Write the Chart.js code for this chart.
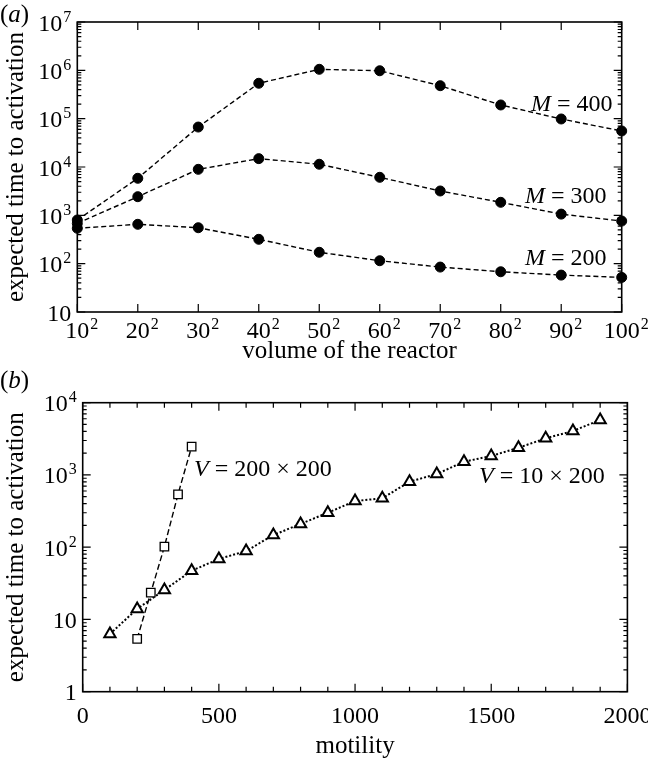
<!DOCTYPE html>
<html>
<head>
<meta charset="utf-8">
<script src="https://cdn.jsdelivr.net/npm/chart.js@4.4.0/dist/chart.umd.min.js"></script>
<style>
  body { margin: 0; background: #fff; }
  #wrap { position: relative; width: 648px; height: 761px; font-family: 'Liberation Serif', 'Times New Roman', serif; }
  canvas { position: absolute; left: 0; }
  .panel { position: absolute; left: 0; font-size: 25px; line-height: 25px; }
</style>
</head>
<body>
<div id="wrap">
  <canvas id="chartA" width="648" height="372" style="top:0"></canvas>
  <canvas id="chartB" width="648" height="389" style="top:372px"></canvas>
  <div class="panel" style="top:1px">(<i>a</i>)</div>
  <div class="panel" style="top:367px">(<i>b</i>)</div>
</div>
<script>
// (a) temps moyen d'activation selon le volume du réacteur
const volumeSides = [10, 20, 30, 40, 50, 60, 70, 80, 90, 100];
const timeM400 = [800, 5840, 67100, 540000, 1050000, 980000, 481000, 192000, 98500, 55600];
const timeM300 = [680, 2430, 8950, 14900, 11400, 6120, 3190, 1860, 1060, 762];
const timeM200 = [540, 652, 554, 319, 172, 115, 85, 68, 58, 52];
const decadesA = [10, 1e2, 1e3, 1e4, 1e5, 1e6, 1e7];

// (b) temps selon la motilité
const motilityLarge = [200, 250, 300, 350, 400];
const timeLarge = [5.4, 23.5, 102, 540, 2460];
const motilitySmall = [100, 200, 300, 400, 500, 600, 700, 800, 900, 1000,
                       1100, 1200, 1300, 1400, 1500, 1600, 1700, 1800, 1900];
const timeSmall = [6.3, 14.0, 25.6, 47.3, 68.7, 88.5, 147, 210, 300, 436,
                   475, 807, 1030, 1525, 1830, 2380, 3210, 4060, 5770];
const motilityTicks = [0, 500, 1000, 1500, 2000];
const decadesB = [1, 10, 1e2, 1e3, 1e4];

const serif = "'Liberation Serif', 'Times New Roman', serif";

// "10" + exposant, dessiné à la main pour avoir un exposant lisible
function powerParts(v) {
    const e = Math.round(Math.log10(v));
    if (e === 0) return ['1', ''];
    if (e === 1) return ['10', ''];
    return ['10', String(e)];
}

function drawPower(ctx, base, exp, x, y, align) {
    ctx.textAlign = 'left';
    ctx.textBaseline = 'alphabetic';
    ctx.font = `24px ${serif}`;
    const wb = ctx.measureText(base).width;
    ctx.font = `16px ${serif}`;
    const we = exp ? ctx.measureText(exp).width + 1 : 0;
    const left = align === 'right' ? x - wb - we : x - wb / 2;
    ctx.font = `24px ${serif}`;
    ctx.fillText(base, left, y);
    if (exp) {
        ctx.font = `16px ${serif}`;
        ctx.fillText(exp, left + wb + 1, y - 9);
    }
}

function drawCurveLabel(ctx, name, rest, px, py) {
    ctx.textAlign = 'left';
    ctx.textBaseline = 'alphabetic';
    ctx.font = `italic 24px ${serif}`;
    ctx.fillText(name, px, py);
    const w = ctx.measureText(name).width;
    ctx.font = `24px ${serif}`;
    ctx.fillText(rest, px + w, py);
}

// cadre + graduations vers l'intérieur sur les quatre côtés
const framePlugin = {
    id: 'frame',
    beforeDatasetsDraw(chart, args, opts) {
        const { ctx, chartArea: a, scales: { x, y } } = chart;
        ctx.save();
        ctx.strokeStyle = '#000';
        ctx.lineWidth = 1.6;
        ctx.strokeRect(a.left, a.top, a.right - a.left, a.bottom - a.top);

        ctx.lineWidth = 1.2;
        ctx.beginPath();
        const xTick = (px, len) => {
            ctx.moveTo(px, a.bottom); ctx.lineTo(px, a.bottom - len);
            ctx.moveTo(px, a.top); ctx.lineTo(px, a.top + len);
        };
        const yTick = (py, len) => {
            ctx.moveTo(a.left, py); ctx.lineTo(a.left + len, py);
            ctx.moveTo(a.right, py); ctx.lineTo(a.right - len, py);
        };
        x.ticks.forEach(t => xTick(x.getPixelForValue(t.value), 8));
        if (opts.xMinor) {
            for (let v = x.min; v <= x.max; v += opts.xMinor) xTick(x.getPixelForValue(v), 5);
        }
        y.ticks.forEach(t => {
            yTick(y.getPixelForValue(t.value), 8);
            for (let k = 2; k < 10; k++) {
                const v = t.value * k;
                if (v < y.max) yTick(y.getPixelForValue(v), 4);
            }
        });
        ctx.stroke();

        ctx.fillStyle = '#000';
        x.ticks.forEach(t => {
            const [b, e] = opts.xLabel(t.value);
            drawPower(ctx, b, e, x.getPixelForValue(t.value), a.bottom + opts.xLabelDrop, 'center');
        });
        y.ticks.forEach(t => {
            const [b, e] = powerParts(t.value);
            drawPower(ctx, b, e, a.left - 6, y.getPixelForValue(t.value) + 8.5, 'right');
        });
        ctx.restore();
    },
    afterDatasetsDraw(chart, args, opts) {
        const { ctx, scales: { x, y } } = chart;
        ctx.save();
        ctx.fillStyle = '#000';
        (opts.curveLabels || []).forEach(l => {
            drawCurveLabel(ctx, l.name, l.text, x.getPixelForValue(l.x), y.getPixelForValue(l.y) + 8);
        });
        ctx.restore();
    }
};

function axisTitle(text, padding) {
    return { display: true, text: text, color: '#000', font: { family: serif, size: 25 }, padding: padding };
}

function dashedSeries(label, data) {
    return {
        label: label,
        data: data,
        borderColor: '#000',
        borderWidth: 1.4,
        borderDash: [5, 3],
        pointRadius: 5,
        pointBackgroundColor: '#000',
        pointBorderColor: '#000',
        pointBorderWidth: 1,
        tension: 0,
        clip: false
    };
}

const hiddenAxis = { grid: { display: false }, border: { display: false }, ticks: { display: false } };

// graphique (a)
new Chart(document.getElementById('chartA'), {
    type: 'line',
    data: {
        labels: volumeSides.map(s => s + '²'),
        datasets: [
            dashedSeries('M = 400', timeM400),
            dashedSeries('M = 300', timeM300),
            dashedSeries('M = 200', timeM200)
        ]
    },
    options: {
        responsive: false,
        animation: false,
        layout: { padding: { top: 22, right: 26.3, bottom: 0, left: 0 } },
        plugins: {
            legend: { display: false },
            tooltip: { enabled: false },
            frame: {
                xLabel: i => [String(volumeSides[i]), '2'],
                xLabelDrop: 26,
                curveLabels: [
                    { name: 'M', text: ' = 400', x: 7.5, y: 2.1e5 },
                    { name: 'M', text: ' = 300', x: 7.4, y: 2630 },
                    { name: 'M', text: ' = 200', x: 7.4, y: 139 }
                ]
            }
        },
        scales: {
            x: {
                ...hiddenAxis,
                type: 'category',
                offset: false,
                title: axisTitle('volume of the reactor', { top: 0, bottom: 6 }),
                afterFit: s => { s.height = 60; s.paddingLeft = 0; s.paddingRight = 0; }
            },
            y: {
                ...hiddenAxis,
                type: 'logarithmic',
                min: 10,
                max: 1e7,
                title: axisTitle('expected time to activation', { top: 1, bottom: 0 }),
                afterBuildTicks: s => { s.ticks = decadesA.map(v => ({ value: v })); },
                afterFit: s => { s.width = 77.3; s.paddingTop = 0; s.paddingBottom = 0; }
            }
        }
    },
    plugins: [framePlugin]
});

// graphique (b)
new Chart(document.getElementById('chartB'), {
    type: 'line',
    data: {
        datasets: [
            {
                label: 'V = 200 × 200',
                data: motilityLarge.map((m, i) => ({ x: m, y: timeLarge[i] })),
                borderColor: '#000',
                borderWidth: 1.4,
                borderDash: [6, 3],
                pointStyle: 'rect',
                pointRadius: 6,
                pointBackgroundColor: '#fff',
                pointBorderColor: '#000',
                pointBorderWidth: 1.3,
                clip: false
            },
            {
                label: 'V = 10 × 200',
                data: motilitySmall.map((m, i) => ({ x: m, y: timeSmall[i] })),
                borderColor: '#000',
                borderWidth: 2,
                borderDash: [2, 2],
                pointStyle: 'triangle',
                pointRadius: 6.5,
                pointBackgroundColor: '#fff',
                pointBorderColor: '#000',
                pointBorderWidth: 2,
                clip: false
            }
        ]
    },
    options: {
        responsive: false,
        animation: false,
        layout: { padding: { top: 30.7, right: 20.6, bottom: 0, left: 0 } },
        plugins: {
            legend: { display: false },
            tooltip: { enabled: false },
            frame: {
                xLabel: v => [String(v), ''],
                xLabelDrop: 31.3,
                xMinor: 100,
                curveLabels: [
                    { name: 'V', text: ' = 200 × 200', x: 409, y: 1250 },
                    { name: 'V', text: ' = 10 × 200', x: 1455, y: 1000 }
                ]
            }
        },
        scales: {
            x: {
                ...hiddenAxis,
                type: 'linear',
                min: 0,
                max: 2000,
                title: axisTitle('motility', { top: 0, bottom: 0 }),
                afterBuildTicks: s => { s.ticks = motilityTicks.map(v => ({ value: v })); },
                afterFit: s => { s.height = 69.3; s.paddingLeft = 0; s.paddingRight = 0; }
            },
            y: {
                ...hiddenAxis,
                type: 'logarithmic',
                min: 1,
                max: 1e4,
                title: axisTitle('expected time to activation', { top: 1, bottom: 0 }),
                afterBuildTicks: s => { s.ticks = decadesB.map(v => ({ value: v })); },
                afterFit: s => { s.width = 82.7; s.paddingTop = 0; s.paddingBottom = 0; }
            }
        }
    },
    plugins: [framePlugin]
});
</script>
</body>
</html>
